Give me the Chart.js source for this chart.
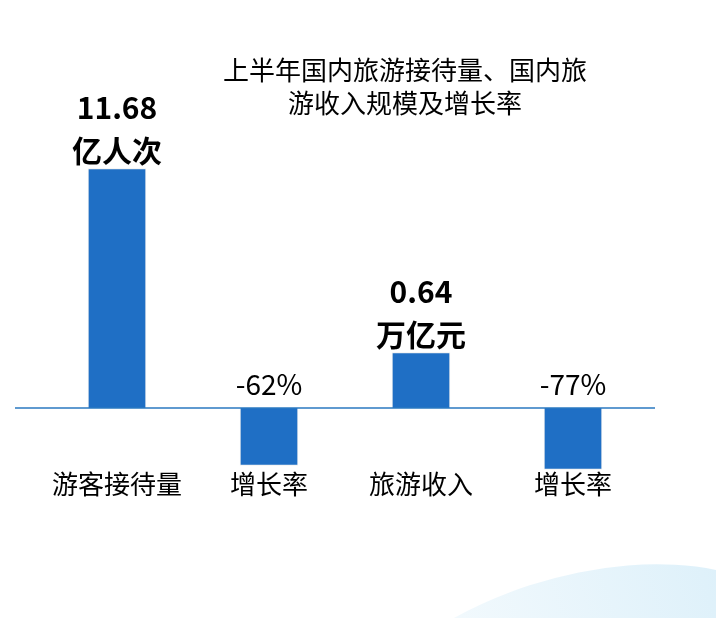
<!DOCTYPE html>
<html>
<head>
<meta charset="utf-8">
<script src="https://cdn.jsdelivr.net/npm/chart.js@4"></script>
<style>
  html, body { margin: 0; padding: 0; background: #fff; }
  #wrap { position: relative; width: 716px; height: 618px; overflow: hidden; }
  #swoosh { position: absolute; right: -120px; bottom: -260px; width: 520px; height: 300px;
            border-radius: 50%; background: linear-gradient(90deg, #ffffff, #d8eef9); transform: rotate(-18deg); }
  canvas { position: absolute; left: 0; top: 0; }
</style>
</head>
<body>
<div id="wrap">
  <div id="swoosh"></div>
  <canvas id="grafico" width="716" height="618"></canvas>
</div>
<script>
const categorias = ["游客接待量", "增长率", "旅游收入", "增长率"];
// bar heights as drawn in the picture (the picture is not to a common scale)
const alturas = [11.68, -2.8, 2.7, -3.0];
const rotulosValor = [["11.68", "亿人次"], ["-62%"], ["0.64", "万亿元"], ["-77%"]];
const rotuloNegrito = [true, false, true, false];
const titulo = ["上半年国内旅游接待量、国内旅", "游收入规模及增长率"];

const FONTE = "'Noto Sans CJK SC', 'Noto Sans', sans-serif";

const textos = {
  id: "textos",
  afterDatasetsDraw(chart) {
    const ctx = chart.ctx;
    const x = chart.scales.x, y = chart.scales.y;
    const zero = y.getPixelForValue(0);
    ctx.save();
    // linha do eixo
    ctx.strokeStyle = "#2a78c0";
    ctx.lineWidth = 1.5;
    ctx.beginPath();
    ctx.moveTo(15, zero);
    ctx.lineTo(655, zero);
    ctx.stroke();

    ctx.fillStyle = "#000";
    ctx.textAlign = "center";
    ctx.textBaseline = "middle";
    ctx.font = "26px " + FONTE;
    ctx.fillText(titulo[0], 405, 70);
    ctx.fillText(titulo[1], 405, 103);

    categorias.forEach((c, i) => {
      const px = x.getPixelForValue(i);
      ctx.font = "26px " + FONTE;
      ctx.fillStyle = "#000";
      ctx.fillText(c, px, 484);

      const linhas = rotulosValor[i];
      ctx.font = (rotuloNegrito[i] ? "bold 30px " : "28px ") + FONTE;
      if (alturas[i] >= 0) {
        const topo = y.getPixelForValue(alturas[i]);
        linhas.forEach((l, k) => {
          ctx.fillText(l, px, topo - 18 - (linhas.length - 1 - k) * 43);
        });
      } else {
        ctx.fillText(linhas[0], px, zero - 24);
      }
    });
    ctx.restore();
  }
};

new Chart(document.getElementById("grafico").getContext("2d"), {
  type: "bar",
  data: {
    labels: categorias,
    datasets: [{
      data: alturas,
      backgroundColor: "#1f6fc5",
      borderColor: "#f0f0f0",
      borderWidth: 1,
      barThickness: 58
    }]
  },
  options: {
    responsive: false,
    animation: false,
    layout: { padding: { left: 41, right: 67, top: 162, bottom: 128 } },
    plugins: { legend: { display: false }, tooltip: { enabled: false } },
    scales: {
      x: { display: false },
      y: { display: false, min: -4, max: 12 }
    }
  },
  plugins: [textos]
});
</script>
</body>
</html>
